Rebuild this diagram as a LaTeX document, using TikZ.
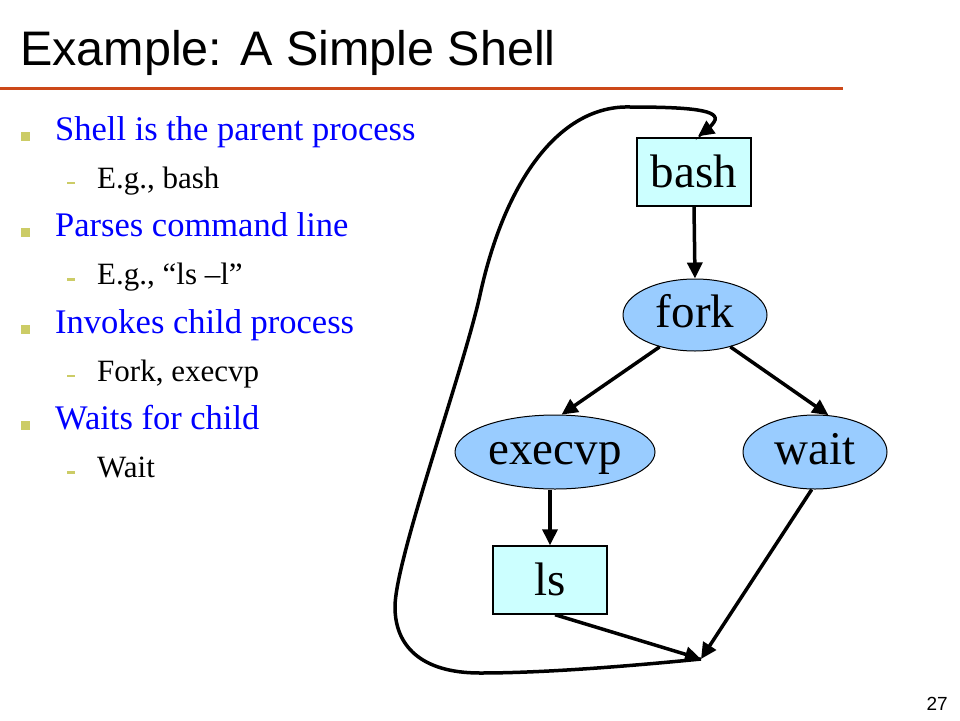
\documentclass[tikz,border=0pt]{standalone}
\usepackage{fontspec}
\setmainfont{Liberation Serif}
\newfontfamily\arialfont{Liberation Sans}
\usetikzlibrary{shapes.geometric,arrows.meta}
\definecolor{boxfill}{RGB}{204,255,255}
\definecolor{ellfill}{RGB}{153,204,255}
\definecolor{rulered}{RGB}{204,72,24}
\definecolor{bulletc}{RGB}{204,204,102}
\definecolor{txtblue}{RGB}{0,0,255}
\begin{document}
\begin{tikzpicture}[x=1pt,y=-1pt,
  procbox/.style={draw=black, line width=1.4pt, fill=boxfill, minimum width=114pt, minimum height=68pt,
    inner sep=0pt, text height=34pt, text depth=4pt, font=\fontsize{47}{50}\selectfont},
  procell/.style={draw=black, line width=1pt, fill=ellfill, ellipse, inner sep=0pt,
    text height=32pt, text depth=8pt, font=\fontsize{47}{50}\selectfont},
  flow/.style={line width=3.5pt, -{Triangle[length=16pt,width=15pt]}},
  mainitem/.style={anchor=base west, inner sep=0pt, text=txtblue, font=\fontsize{34.5}{36}\selectfont},
  subitem/.style={anchor=base west, inner sep=0pt, text=black, font=\fontsize{31}{32}\selectfont},
  sqmark/.style={fill=bulletc, minimum size=9pt, inner sep=0pt},
  dashmark/.style={fill=bulletc, minimum width=8pt, minimum height=2.5pt, inner sep=0pt},
]
\useasboundingbox (0,0) rectangle (960,720);
\fill[white] (0,0) rectangle (960,720);

% title
\node[anchor=base west, inner sep=0pt, font=\arialfont\fontsize{48.5}{52}\selectfont] (title) at (20,65) {Example: A Simple Shell};
\draw[rulered, line width=3pt] (0,88) -- (843,88);

% bullets
\node[sqmark] (s1) at (25,136) {};
\node[mainitem] (m1) at (55,140) {Shell is the parent process};
\node[dashmark] (d1) at (71,183) {};
\node[subitem] (t1) at (97,188) {E.g., bash};

\node[sqmark] (s2) at (25,232.5) {};
\node[mainitem] (m2) at (55,236.5) {Parses command line};
\node[dashmark] (d2) at (71,279.5) {};
\node[subitem] (t2) at (97,284.5) {E.g., “ls –l”};

\node[sqmark] (s3) at (25,329) {};
\node[mainitem] (m3) at (55,333) {Invokes child process};
\node[dashmark] (d3) at (71,376) {};
\node[subitem] (t3) at (97,381) {Fork, execvp};

\node[sqmark] (s4) at (25,425.5) {};
\node[mainitem] (m4) at (55,429.5) {Waits for child};
\node[dashmark] (d4) at (71,472.5) {};
\node[subitem] (t4) at (97,477.5) {Wait};

% diagram
\node[procbox] (bash) at (694,172) {bash};
\node[procell, minimum width=144pt, minimum height=72pt] (fork) at (695,315) {fork};
\node[procell, minimum width=200pt, minimum height=74pt] (execvp) at (555,452) {execvp};
\node[procell, minimum width=144pt, minimum height=74pt] (wait) at (815,452) {wait};
\node[procbox] (ls) at (550,580) {ls};
\coordinate (J) at (701,659);

\draw[flow] (bash.south) -- (fork.north);
\draw[flow] (fork.222) -- (execvp.80);
\draw[flow] (fork.318) -- (wait.70);
\draw[flow] (execvp.south -| ls.north) -- (ls.north);
\draw[flow] ([xshift=5pt]ls.south) -- (J);
\draw[flow] (wait.265) -- (J);
\draw[flow] (J) .. controls (620,667) and (540,673) .. (480,673)
  .. controls (420,673) and (395,645) .. (395,607)
  .. controls (395,560) and (462,375) .. (480,295)
  .. controls (505,180) and (560,105) .. (630,107)
  .. controls (690,107) and (722,110) .. (714,122)
  .. controls (710,128) and (704,132) .. ([xshift=4pt,yshift=1pt]bash.north);

% page number
\node[anchor=base east, inner sep=0pt, font=\arialfont\fontsize{19}{20}\selectfont] (pg) at (948,710) {27};
\end{tikzpicture}
\end{document}
